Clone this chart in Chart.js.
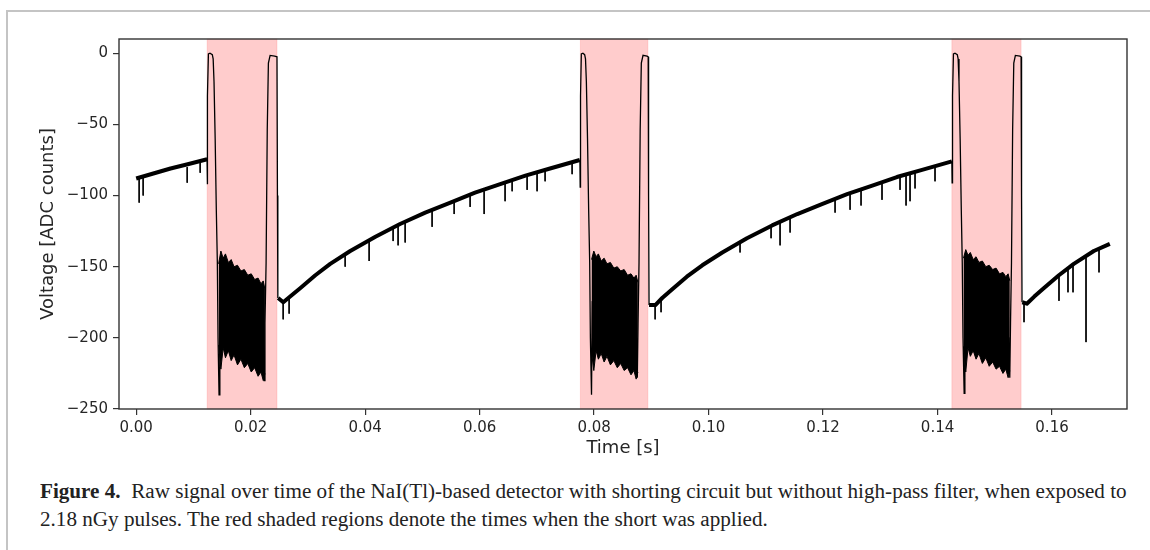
<!DOCTYPE html>
<html>
<head>
<meta charset="utf-8">
<script src="https://cdn.jsdelivr.net/npm/chart.js@4.4.1/dist/chart.umd.min.js"></script>
<style>
  body { margin: 0; background: #fff; width: 1150px; height: 550px; overflow: hidden; position: relative; }
  #frame { position: absolute; left: 6px; top: 10px; width: 1150px; height: 560px;
           border-top: 2px solid #c4c4c4; border-left: 2px solid #c4c4c4; }
  #grafico { position: absolute; left: 0; top: 0; }
  .legenda { position: absolute; left: 40px; font-family: "Liberation Serif", serif; font-size: 20px;
             color: #222; white-space: nowrap; transform-origin: 0 0; line-height: 22px; }
</style>
</head>
<body>
<div id="frame"></div>
<canvas id="grafico" width="1150" height="470"></canvas>
<div class="legenda" id="linha1" style="top:480px"><b>Figure 4.</b>&nbsp; Raw signal over time of the NaI(Tl)-based detector with shorting circuit but without high-pass filter, when exposed to</div>
<div class="legenda" id="linha2" style="top:508px">2.18 nGy pulses. The red shaded regions denote the times when the short was applied.</div>
<script>
// ticks
const xTicks = [0, 0.02, 0.04, 0.06, 0.08, 0.10, 0.12, 0.14, 0.16]
const yTicks = [-250, -200, -150, -100, -50, 0]

// periods when the short was applied [s]
const shortStart = [0.0124, 0.0776, 0.1425]
const shortEnd = [0.0246, 0.0894, 0.1546]

// slow recovery of the baseline (thick noisy trace), null = break
const baseTime = [0, 0.003, 0.006, 0.009, 0.0124, 0.0124,
  0.0248, 0.0257, 0.0269, 0.0287, 0.0313, 0.0339, 0.0374, 0.0418, 0.0461, 0.0505, 0.0549, 0.0592, 0.0636, 0.0680, 0.0723, 0.0775, 0.0775,
  0.0896, 0.0907, 0.0919, 0.0936, 0.0962, 0.0989, 0.1024, 0.1067, 0.1111, 0.1155, 0.1198, 0.1242, 0.1286, 0.1329, 0.1373, 0.1425, 0.1425,
  0.1548, 0.1556, 0.1569, 0.1586, 0.1612, 0.1638, 0.1673, 0.1701]
const baseVolt = [-88, -84.5, -81, -78, -74.5, null,
  -172, -175, -171, -165, -156, -148, -139, -129, -120, -112, -105, -98, -92, -86, -81, -75, null,
  -177, -177, -172, -166, -157, -149, -140, -130, -121, -113, -106, -99, -93, -87, -82, -76, null,
  -175, -176, -171, -165, -156, -148, -139, -134]

// fast part of the signal during each short (thin trace)
const shortTime = [0.01238, 0.01242, 0.01248, 0.01262, 0.01290, 0.01330, 0.01345, 0.01360, 0.01380, 0.01400, 0.01418, 0.01430, 0.01448, 0.01462, 0.0180, 0.0222, 0.02235, 0.02250, 0.02270, 0.02290, 0.02310, 0.02340, 0.02420, 0.02460, 0.02468, 0.02475, 0.02475,
  0.07752, 0.07757, 0.07763, 0.07777, 0.07805, 0.07835, 0.07850, 0.07865, 0.07885, 0.07905, 0.07923, 0.07935, 0.07955, 0.07968, 0.0830, 0.08740, 0.08755, 0.08768, 0.08785, 0.08805, 0.08825, 0.08855, 0.08925, 0.08945, 0.08952, 0.08960, 0.08960,
  0.14250, 0.14255, 0.14262, 0.14278, 0.14305, 0.14345, 0.14360, 0.14375, 0.14395, 0.14415, 0.14432, 0.14445, 0.14465, 0.14478, 0.1480, 0.15245, 0.15262, 0.15275, 0.15292, 0.15312, 0.15332, 0.15360, 0.15440, 0.15460, 0.15468, 0.15476]
const shortVolt = [-74.5, -92, -30, -0.5, 0, -1, -4, -20, -60, -110, -147, -200, -240, -175, -185, -200, -230, -190, -147, -54, -7, -1.5, -2, -2.5, -100, -172, null,
  -75, -94, -30, -0.5, 0, -1, -4, -20, -60, -110, -147, -200, -240, -175, -185, -200, -228, -190, -147, -54, -7, -1.5, -2, -2.5, -100, -177, null,
  -76, -91, -30, -0.5, 0, -1, -4, -20, -60, -110, -147, -200, -239, -175, -185, -200, -228, -190, -147, -54, -7, -1.5, -2, -2.5, -100, -175]

// dense oscillation while shorted: upper and lower envelope
const bandTime = [
  [0.0144, 0.0148, 0.0152, 0.0156, 0.0161, 0.0166, 0.0171, 0.0177, 0.0183, 0.0189, 0.0195, 0.0201, 0.0207, 0.0213, 0.0218, 0.0222, 0.0225],
  [0.07955, 0.07995, 0.08035, 0.08075, 0.08125, 0.08175, 0.08225, 0.08285, 0.08345, 0.08405, 0.08465, 0.08525, 0.08585, 0.08645, 0.08695, 0.08735, 0.08765],
  [0.14453, 0.14493, 0.14533, 0.14573, 0.14623, 0.14673, 0.14723, 0.14783, 0.14843, 0.14903, 0.14963, 0.15023, 0.15083, 0.15143, 0.15193, 0.15233, 0.15263]
]
const bandTop = [
  [-148, -139, -144, -141, -147, -145, -150, -149, -153, -152, -156, -155, -159, -158, -162, -160, -166],
  [-145, -139, -143, -141, -146, -144, -148, -147, -151, -150, -153, -152, -156, -155, -158, -156, -161],
  [-144, -138, -142, -140, -145, -143, -147, -146, -150, -149, -152, -151, -155, -154, -157, -155, -160]
]
const bandBottom = [
  [-205, -222, -207, -214, -209, -216, -212, -219, -215, -221, -218, -224, -221, -227, -224, -230, -225],
  [-210, -223, -209, -215, -211, -217, -213, -219, -216, -221, -218, -223, -221, -226, -223, -229, -224],
  [-206, -224, -207, -213, -209, -215, -211, -218, -214, -220, -217, -222, -220, -225, -222, -228, -223]
]

// single downward glitches on the baseline
const spikeTime = [0.00052, 0.00122, 0.00891, 0.01118,
  0.02568, 0.02672, 0.03651, 0.0407, 0.04489, 0.04576, 0.04699, 0.0517, 0.05555, 0.05834, 0.06079, 0.06445, 0.06568, 0.0683, 0.07004, 0.07144, 0.07616,
  0.09066, 0.0917, 0.1055, 0.11092, 0.11249, 0.11424, 0.1221, 0.12472, 0.12664, 0.1303, 0.13345, 0.1345, 0.1352, 0.13607, 0.13956,
  0.15511, 0.16122, 0.16279, 0.16367, 0.16594, 0.16821]
const spikeBase = [-88, -87, -80, -77,
  -175, -172, -141, -131, -123, -121, -119, -110, -105, -100, -97, -91, -90, -86, -84, -82, -76,
  -177, -173, -133, -121, -119, -115, -103, -99, -96, -91, -86, -85, -84, -83, -79,
  -175, -156, -151, -149, -143, -137]
const spikeLow = [-105, -100, -91, -84,
  -187, -183, -150, -146, -132, -135, -133, -122, -113, -108, -113, -104, -97, -96, -97, -90, -85,
  -187, -182, -140, -130, -135, -126, -112, -110, -107, -103, -96, -107, -104, -95, -90,
  -189, -174, -168, -168, -203, -154]

function pontos(tempos, valores) {
    var lista = []
    for (var i = 0; i < tempos.length; i++) {
        lista.push({ x: tempos[i], y: valores[i] })
    }
    return lista
}

var spikePontos = []
for (var i = 0; i < spikeTime.length; i++) {
    spikePontos.push({ x: spikeTime[i], y: spikeBase[i] })
    spikePontos.push({ x: spikeTime[i], y: spikeLow[i] })
    spikePontos.push({ x: spikeTime[i], y: null })
}

var datasets = []
for (var b = 0; b < bandTime.length; b++) {
    datasets.push({ data: pontos(bandTime[b], bandTop[b]), borderColor: '#000', borderWidth: 1,
        backgroundColor: '#000', fill: '+1', tension: 0 })
    datasets.push({ data: pontos(bandTime[b], bandBottom[b]), borderColor: '#000', borderWidth: 1, fill: false })
}
datasets.push({ data: pontos(baseTime, baseVolt), borderColor: '#000', borderWidth: 4, fill: false, borderJoinStyle: 'round' })
datasets.push({ data: pontos(shortTime, shortVolt), borderColor: '#000', borderWidth: 1.3, fill: false })
datasets.push({ data: spikePontos, borderColor: '#000', borderWidth: 1, fill: false })

// shaded regions + axes frame
const sombra = {
    id: 'sombra',
    beforeDatasetsDraw(chart) {
        const c = chart.ctx, a = chart.chartArea, x = chart.scales.x
        c.save()
        for (var i = 0; i < shortStart.length; i++) {
            var x0 = x.getPixelForValue(shortStart[i])
            var x1 = x.getPixelForValue(shortEnd[i])
            c.fillStyle = 'rgba(255, 0, 0, 0.2)'
            c.fillRect(x0, a.top, x1 - x0, a.bottom - a.top)
            c.strokeStyle = 'rgba(255, 0, 0, 0.12)'
            c.lineWidth = 1
            c.strokeRect(x0, a.top, x1 - x0, a.bottom - a.top)
        }
        c.restore()
    },
    afterDraw(chart) {
        const c = chart.ctx, a = chart.chartArea
        c.save()
        c.strokeStyle = '#333'
        c.lineWidth = 1.4
        c.strokeRect(a.left, a.top, a.right - a.left, a.bottom - a.top)
        c.restore()
    }
}

function menos(v) {
    return v < 0 ? '\u2212' + Math.abs(v) : String(v)
}

const ctx = document.getElementById('grafico').getContext('2d')
const grafico = new Chart(ctx, {
    type: 'line',
    data: { datasets: datasets },
    plugins: [sombra],
    options: {
        responsive: false,
        animation: false,
        devicePixelRatio: 1,
        layout: { padding: { left: 0, top: 39, right: 23, bottom: 0 } },
        elements: { point: { radius: 0 }, line: { tension: 0 } },
        plugins: { legend: { display: false }, tooltip: { enabled: false } },
        scales: {
            x: {
                type: 'linear', min: -0.003, max: 0.1731,
                afterBuildTicks: (s) => { s.ticks = xTicks.map(v => ({ value: v })) },
                afterFit: (s) => { s.height = 61 },
                border: { display: false },
                grid: { drawOnChartArea: false, drawTicks: true, tickLength: 6, color: '#333', lineWidth: 1.2 },
                ticks: { autoSkip: false, maxRotation: 0, padding: 4, color: '#262626',
                    font: { family: 'DejaVu Sans', size: 15 }, callback: (v) => v.toFixed(2) },
                title: { display: true, text: 'Time [s]', color: '#262626',
                    font: { family: 'DejaVu Sans', size: 18 }, padding: { top: 0, bottom: 11 } }
            },
            y: {
                type: 'linear', min: -250, max: 10,
                afterBuildTicks: (s) => { s.ticks = yTicks.map(v => ({ value: v })) },
                afterFit: (s) => { s.width = 119 },
                border: { display: false },
                grid: { drawOnChartArea: false, drawTicks: true, tickLength: 6, color: '#333', lineWidth: 1.2 },
                ticks: { autoSkip: false, padding: 5, color: '#262626',
                    font: { family: 'DejaVu Sans', size: 15 }, callback: (v) => menos(v) },
                title: { display: true, text: 'Voltage [ADC counts]', color: '#262626',
                    font: { family: 'DejaVu Sans', size: 18 }, padding: { top: 38, bottom: 0 } }
            }
        }
    }
})

// caption width as in the journal layout
var l1 = document.getElementById('linha1')
var l2 = document.getElementById('linha2')
var escala = 1087 / l1.offsetWidth
l1.style.transform = 'scaleX(' + escala + ')'
l2.style.transform = 'scaleX(' + escala + ')'
</script>
</body>
</html>
